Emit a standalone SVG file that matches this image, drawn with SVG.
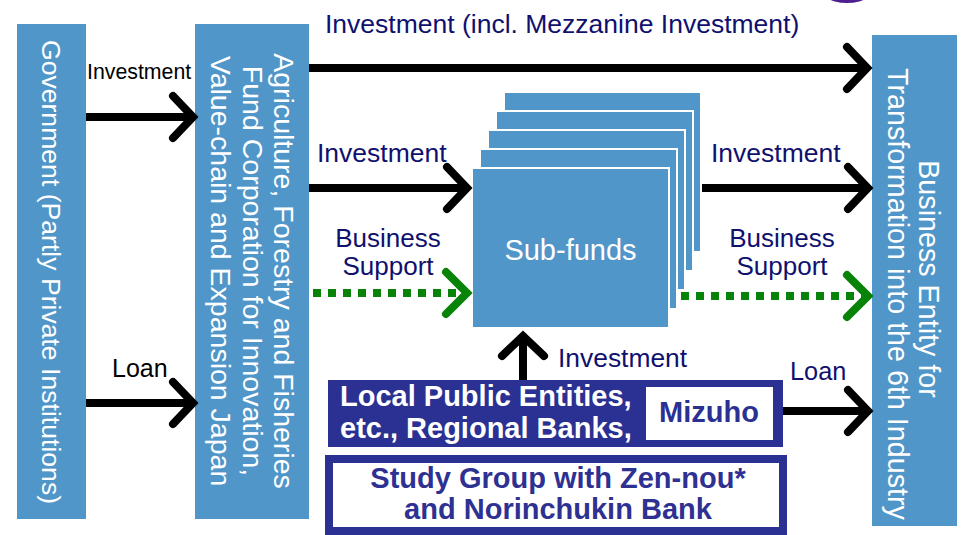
<svg xmlns="http://www.w3.org/2000/svg" width="961" height="535" viewBox="0 0 961 535">
  <style>
    text { font-family: "Liberation Sans", Arial, sans-serif; }
    .box { fill: #5096c9; }
    .fund { fill: #5096c9; stroke: #ffffff; stroke-width: 2; }
    .vt { fill: #ffffff; text-anchor: middle; }
    .nv { fill: #10106e; }
    .blk { fill: #000000; }
    .mid { text-anchor: middle; }
    .bold { font-weight: bold; }
    .flow { fill: none; stroke: #000000; stroke-width: 8; marker-end: url(#chevK); }
    .support { fill: none; stroke: #078407; stroke-width: 8; stroke-dasharray: 8 7; marker-end: url(#chevG); }
  </style>
  <defs>
    <marker id="chevK" markerUnits="userSpaceOnUse" markerWidth="30" markerHeight="50" refX="0" refY="0" orient="auto" overflow="visible">
      <path d="M-20,-21 L0,0 L-20,21" fill="none" stroke="#000000" stroke-width="8" stroke-linecap="round" stroke-linejoin="miter"/>
    </marker>
    <marker id="chevG" markerUnits="userSpaceOnUse" markerWidth="30" markerHeight="50" refX="0" refY="0" orient="auto" overflow="visible">
      <path d="M-21,-21 L0,0 L-21,21" fill="none" stroke="#078407" stroke-width="8" stroke-linecap="round" stroke-linejoin="miter"/>
    </marker>
  </defs>

  <rect width="961" height="535" fill="#ffffff"/>

  <!-- partial purple badge at the top edge -->
  <ellipse cx="847" cy="-18" rx="32" ry="21" fill="#4f1f8f"/>

  <!-- Government -->
  <g id="government">
    <rect class="box" x="17" y="24" width="69" height="495"/>
    <text class="vt" font-size="26.6" transform="translate(42,272) rotate(90)">Government (Partly Private Institutions)</text>
  </g>

  <!-- Fund corporation -->
  <g id="fund-corporation">
    <rect class="box" x="195" y="24" width="114" height="495"/>
    <text class="vt" font-size="28.5" transform="translate(274,271) rotate(90)">Agriculture, Forestry and Fisheries</text>
    <text class="vt" font-size="28.5" transform="translate(242.5,271) rotate(90)">Fund Corporation for Innovation,</text>
    <text class="vt" font-size="28.5" transform="translate(211,271) rotate(90)">Value-chain and Expansion Japan</text>
  </g>

  <!-- Business entity -->
  <g id="business-entity">
    <rect class="box" x="872" y="35" width="85" height="491"/>
    <text class="vt" font-size="28.7" transform="translate(919,279) rotate(90)">Business Entity for</text>
    <text class="vt" font-size="28.7" transform="translate(887.5,294) rotate(90)">Transformation into the 6th Industry</text>
  </g>

  <!-- Sub-funds: stacked sheets, back to front -->
  <g id="sub-funds">
    <rect class="fund" x="504" y="92" width="197" height="160"/>
    <rect class="fund" x="496" y="111" width="197" height="160"/>
    <rect class="fund" x="488" y="130" width="197" height="160"/>
    <rect class="fund" x="480" y="149" width="197" height="160"/>
    <rect class="fund" x="472" y="168" width="197" height="160"/>
    <text fill="#ffffff" class="mid" font-size="29" x="570.5" y="260">Sub-funds</text>
  </g>

  <!-- Local public entities / regional banks / Mizuho -->
  <g id="local-banks">
    <rect x="328" y="380" width="455" height="67" fill="#2b3192"/>
    <text class="bold" fill="#ffffff" font-size="29" x="340" y="406">Local Public Entities,</text>
    <text class="bold" fill="#ffffff" font-size="29" x="340" y="438">etc., Regional Banks,</text>
    <rect x="646" y="387" width="127" height="53" fill="#ffffff"/>
    <text class="bold mid" fill="#2b3192" font-size="29" x="709" y="422">Mizuho</text>
  </g>

  <!-- Study group -->
  <g id="study-group">
    <rect x="329" y="459" width="454" height="72" fill="#ffffff" stroke="#2b3192" stroke-width="8"/>
    <text class="bold mid" fill="#2e3192" font-size="29" x="558" y="488">Study Group with Zen-nou*</text>
    <text class="bold mid" fill="#2e3192" font-size="29" x="558" y="519">and Norinchukin Bank</text>
  </g>

  <!-- Connectors -->
  <g id="connectors">
    <path class="flow" d="M86,117 H193"/>
    <path class="flow" d="M86,403 H193"/>
    <path class="flow" d="M309,68 H867"/>
    <path class="flow" d="M309,188 H467"/>
    <path class="flow" d="M702,188 H868"/>
    <path class="support" d="M313,293 H467"/>
    <path class="support" d="M681,296 H868"/>
    <path class="flow" d="M523,380 V336"/>
    <path class="flow" d="M783,411 H868"/>
  </g>

  <!-- Connector labels -->
  <g id="labels">
    <text class="nv" font-size="26.5" x="325" y="33">Investment (incl. Mezzanine Investment)</text>
    <text class="blk" font-size="21.3" x="87" y="79">Investment</text>
    <text class="blk" font-size="25" x="112" y="377">Loan</text>
    <text class="nv" font-size="26.5" x="317" y="162">Investment</text>
    <text class="nv" font-size="26.5" x="711" y="162">Investment</text>
    <text class="nv mid" font-size="26" x="388" y="247">Business</text>
    <text class="nv mid" font-size="26" x="388" y="275">Support</text>
    <text class="nv mid" font-size="26" x="782" y="247">Business</text>
    <text class="nv mid" font-size="26" x="782" y="275">Support</text>
    <text class="nv" font-size="26.4" x="558" y="367">Investment</text>
    <text class="nv" font-size="25.3" x="790" y="380">Loan</text>
  </g>
</svg>
